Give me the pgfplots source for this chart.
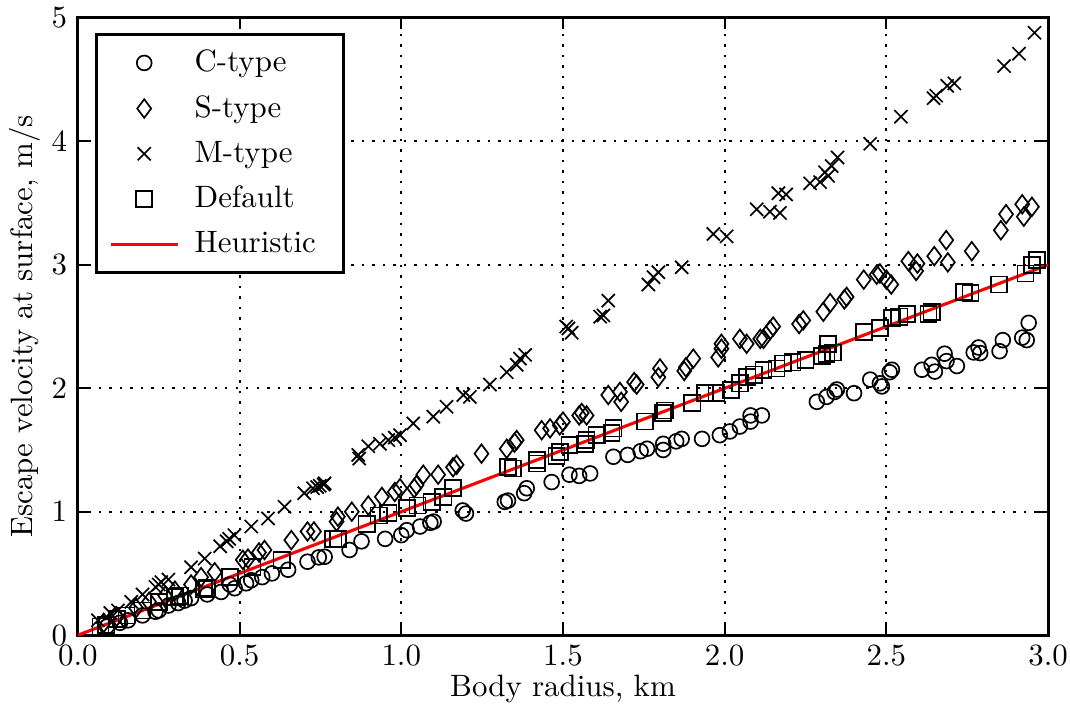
\documentclass[border=0pt]{standalone}
\usepackage{pgfplots}
\pgfplotsset{compat=1.18}

\begin{document}
\begin{tikzpicture}
\begin{axis}[
    scale only axis,
    width=313.9pt, height=199.7pt,
    xmin=0, xmax=3, ymin=0, ymax=5,
    xtick={0,0.5,...,3}, ytick={0,1,...,5},
    xticklabel style={/pgf/number format/.cd,fixed,fixed zerofill,precision=1},
    grid=major,
    major grid style={black, dash pattern=on 0.8pt off 2.6pt, line width=0.6pt},
    tick align=inside, major tick length=3.5pt,
    tick style={black, line width=0.6pt},
    axis line style={line width=1pt},
    xlabel={Body radius, km},
    ylabel={Escape velocity at surface, m/s},
    xlabel style={yshift=4pt},
    ylabel style={yshift=-3.3pt},
    legend cell align=left,
    legend style={at={(0.018,0.976)}, anchor=north west, draw=black, line width=1pt,
        row sep=2.2pt, inner xsep=4pt, inner ysep=3pt,
        nodes={inner xsep=5pt}},
    legend image code/.code={\draw[mark repeat=2,mark phase=2,#1] plot coordinates {(0cm,0cm) (0.38cm,0cm) (0.76cm,0cm)};},
]
% C-type
\addplot[only marks, mark=o, mark size=2.4pt, black, line width=0.55pt] coordinates {
(0.09,0.07)(0.13,0.10)(0.155,0.12)(0.2,0.16)(0.24,0.19)(0.25,0.20)(0.28,0.24)(0.31,0.26)
(0.33,0.28)(0.35,0.30)(0.40,0.33)(0.443,0.35)(0.47,0.41)(0.485,0.38)(0.52,0.42)(0.536,0.445)
(0.57,0.47)(0.60,0.50)(0.65,0.53)(0.71,0.595)(0.745,0.63)(0.763,0.635)(0.84,0.69)(0.877,0.76)
(0.95,0.78)(1.00,0.81)(1.017,0.85)(1.058,0.88)(1.09,0.91)(1.10,0.92)(1.19,1.01)(1.20,0.985)
(1.32,1.08)(1.33,1.09)(1.38,1.15)(1.388,1.19)(1.465,1.24)(1.52,1.30)(1.55,1.29)(1.584,1.31)
(1.656,1.445)(1.70,1.46)(1.74,1.49)(1.76,1.51)(1.81,1.50)(1.81,1.55)(1.85,1.57)(1.867,1.59)
(1.93,1.59)(1.985,1.62)(2.016,1.65)(2.047,1.69)(2.08,1.73)(2.08,1.78)(2.115,1.78)(2.285,1.89)
(2.315,1.93)(2.34,1.97)(2.347,1.99)(2.40,1.96)(2.45,2.07)(2.48,2.04)(2.486,2.015)(2.51,2.13)
(2.517,2.15)(2.61,2.15)(2.64,2.19)(2.65,2.135)(2.68,2.28)(2.686,2.22)(2.718,2.18)(2.77,2.29)
(2.785,2.33)(2.79,2.285)(2.85,2.30)(2.86,2.39)(2.92,2.41)(2.934,2.39)(2.94,2.53)
};
\addlegendentry{C-type}
% S-type
\addplot[only marks, mark=diamond, mark size=3pt, black, line width=0.55pt] coordinates {
(0.08,0.10)(0.12,0.15)(0.18,0.22)(0.22,0.27)(0.27,0.32)(0.30,0.36)(0.35,0.41)(0.381,0.47)
(0.423,0.51)(0.51,0.61)(0.526,0.62)(0.56,0.67)(0.577,0.69)(0.66,0.77)(0.71,0.84)(0.73,0.84)
(0.80,0.92)(0.804,0.96)(0.847,1.00)(0.898,1.05)(0.94,1.12)(0.98,1.16)(0.996,1.19)(1.04,1.19)
(1.047,1.215)(1.068,1.30)(1.114,1.30)(1.16,1.36)(1.171,1.38)(1.248,1.47)(1.326,1.51)(1.35,1.56)
(1.357,1.58)(1.434,1.66)(1.46,1.675)(1.49,1.70)(1.50,1.73)(1.55,1.78)(1.558,1.80)(1.573,1.78)
(1.64,1.945)(1.676,1.97)(1.68,1.89)(1.72,2.05)(1.728,2.03)(1.795,2.09)(1.80,2.16)(1.875,2.14)
(1.88,2.17)(1.903,2.24)(1.98,2.25)(1.99,2.32)(1.99,2.36)(2.047,2.40)(2.068,2.36)(2.11,2.40)
(2.12,2.40)(2.14,2.47)(2.15,2.50)(2.23,2.52)(2.243,2.55)(2.305,2.62)(2.326,2.69)(2.37,2.72)
(2.377,2.74)(2.43,2.88)(2.47,2.92)(2.48,2.93)(2.50,2.88)(2.515,2.84)(2.568,3.03)(2.592,2.95)
(2.596,3.01)(2.648,3.07)(2.685,3.20)(2.69,3.02)(2.764,3.11)(2.854,3.28)(2.87,3.41)(2.92,3.49)
(2.925,3.39)(2.95,3.47)
};
\addlegendentry{S-type}
% M-type
\addplot[only marks, mark=x, mark size=3pt, black, line width=0.55pt] coordinates {
(0.062,0.12)(0.10,0.18)(0.124,0.20)(0.165,0.27)(0.20,0.33)(0.24,0.39)(0.25,0.41)(0.258,0.43)
(0.28,0.45)(0.35,0.55)(0.392,0.62)(0.44,0.72)(0.46,0.76)(0.468,0.78)(0.484,0.81)(0.536,0.88)
(0.588,0.945)(0.639,1.04)(0.70,1.15)(0.727,1.19)(0.74,1.20)(0.748,1.21)(0.76,1.22)(0.763,1.23)
(0.867,1.46)(0.87,1.43)(0.898,1.53)(0.934,1.55)(0.96,1.58)(0.98,1.60)(0.996,1.62)(1.037,1.715)
(1.099,1.77)(1.14,1.85)(1.192,1.945)(1.212,1.93)(1.274,2.03)(1.326,2.13)(1.357,2.19)(1.367,2.24)
(1.383,2.27)(1.51,2.50)(1.517,2.485)(1.527,2.45)(1.615,2.58)(1.625,2.59)(1.64,2.71)(1.764,2.84)
(1.78,2.90)(1.795,2.94)(1.867,2.98)(1.965,3.25)(2.006,3.23)(2.099,3.45)(2.14,3.43)(2.171,3.42)
(2.166,3.58)(2.19,3.57)(2.264,3.66)(2.295,3.67)(2.31,3.75)(2.32,3.72)(2.331,3.80)(2.349,3.87)
(2.45,3.98)(2.545,4.20)(2.646,4.35)(2.654,4.37)(2.688,4.45)(2.71,4.47)(2.864,4.61)(2.91,4.71)
(2.958,4.88)
};
\addlegendentry{M-type}
% Default
\addplot[only marks, mark=square, mark size=2.6pt, black, line width=0.55pt] coordinates {
(0.07,0.07)(0.088,0.08)(0.12,0.13)(0.15,0.16)(0.20,0.20)(0.25,0.27)(0.30,0.31)(0.315,0.32)
(0.39,0.37)(0.40,0.38)(0.47,0.47)(0.54,0.55)(0.63,0.61)(0.79,0.78)(0.805,0.78)(0.893,0.90)
(0.93,0.97)(0.96,0.99)(1.017,1.03)(1.05,1.05)(1.094,1.08)(1.13,1.12)(1.16,1.19)(1.33,1.36)
(1.346,1.35)(1.42,1.39)(1.42,1.42)(1.48,1.45)(1.49,1.485)(1.52,1.54)(1.568,1.55)(1.573,1.58)
(1.604,1.62)(1.65,1.64)(1.656,1.675)(1.754,1.73)(1.81,1.80)(1.815,1.82)(1.90,1.88)(1.94,1.96)
(1.975,1.96)(2.02,1.985)(2.047,2.04)(2.07,2.09)(2.09,2.11)(2.12,2.15)(2.16,2.16)(2.18,2.20)
(2.21,2.21)(2.25,2.23)(2.30,2.26)(2.315,2.28)(2.32,2.36)(2.335,2.29)(2.43,2.455)(2.48,2.49)
(2.517,2.57)(2.54,2.58)(2.563,2.60)(2.63,2.60)(2.64,2.62)(2.74,2.78)(2.76,2.77)(2.848,2.84)
(2.93,2.93)(2.95,3.00)(2.965,3.04)
};
\addlegendentry{Default}
% Heuristic
\addplot[red, line width=1pt, no marks] coordinates {(0,0)(3,3)};
\addlegendentry{Heuristic}
\end{axis}
\pgfresetboundingbox
\path ([xshift=-25.2pt,yshift=-24.3pt]current axis.south west) rectangle ([xshift=7.1pt,yshift=5.8pt]current axis.north east);
\end{tikzpicture}
\end{document}
